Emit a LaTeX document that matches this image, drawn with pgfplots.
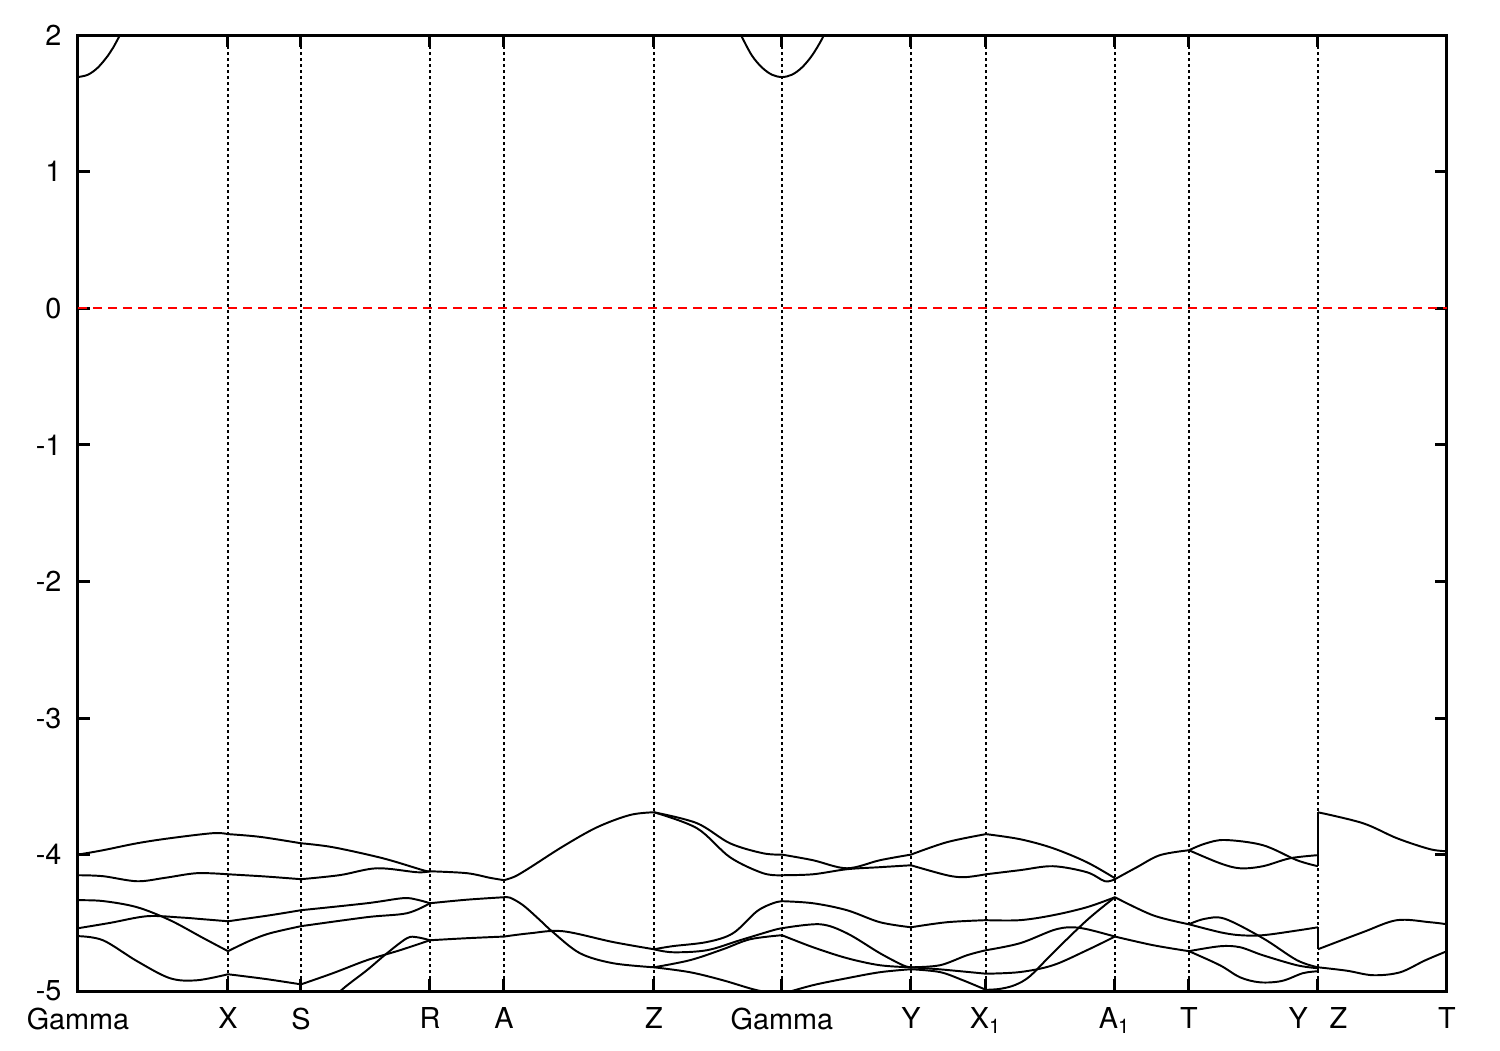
\documentclass[border=0pt]{standalone}
\usepackage{pgfplots}
\pgfplotsset{compat=1.18}
\usepackage{fontspec}
\setmainfont{TeX Gyre Heros}
\usetikzlibrary{calc}
\begin{document}
\begin{tikzpicture}
\begin{axis}[
 scale only axis, width=456.3pt, height=318.7pt,
 xmin=78, xmax=1447, ymin=-5, ymax=2,
 xtick={78,228,301,430,504,654,782,911,986,1115,1189,1318,1447},
 xticklabels={Gamma,X,S,R,A,Z,Gamma,Y,X\textsubscript{1},A\textsubscript{1},T,Y\hspace{0.75em}Z,T},
 ytick={-5,-4,-3,-2,-1,0,1,2},
 yticklabels={-5,-4,-3,-2,-1,0,1,2},
 tick align=inside, major tick length=4pt,
 xmajorgrids, grid style={black, line width=0.4pt, dash pattern=on 1pt off 1pt},
 axis line style={line width=1pt},
 tick style={black, line width=1pt},
 ticklabel style={font=\fontsize{9.6}{11}\selectfont},
 yticklabel style={xshift=-2pt},
 xticklabel style={yshift=-2pt},
 band/.style={black, line width=0.65pt, smooth, tension=0.55, no markers},
 jump/.style={black, line width=0.65pt, no markers},
]
\addplot[red, line width=0.6pt, dash pattern=on 3pt off 2pt] coordinates {(78,0)(1447,0)};
% conduction band
\addplot[band] coordinates {(78,1.693)(88,1.710)(98,1.763)(108,1.850)(113,1.906)(120,2.0)(126,2.08)};
\addplot[band] coordinates {(730,2.163)(735,2.086)(742,1.985)(752,1.85)(762,1.763)(772,1.71)(782,1.693)(792,1.71)(802,1.763)(812,1.85)(822,1.971)(829,2.086)(834,2.163)};
% Gamma - X
\addplot[band] coordinates {(78,-4.0)(103,-3.968)(137,-3.917)(170,-3.88)(213,-3.843)(228,-3.85)};
\addplot[band] coordinates {(78,-4.151)(103,-4.158)(137,-4.195)(165,-4.17)(197,-4.136)(228,-4.144)};
\addplot[band] coordinates {(78,-4.334)(103,-4.34)(137,-4.385)(170,-4.48)(203,-4.61)(228,-4.707)};
\addplot[band] coordinates {(78,-4.539)(110,-4.50)(147,-4.451)(180,-4.46)(203,-4.473)(228,-4.488)};
\addplot[band] coordinates {(78,-4.597)(103,-4.627)(137,-4.78)(170,-4.905)(197,-4.92)(228,-4.876)};
% X - S
\addplot[band] coordinates {(228,-3.85)(260,-3.87)(301,-3.917)};
\addplot[band] coordinates {(228,-4.144)(265,-4.16)(301,-4.18)};
\addplot[band] coordinates {(228,-4.707)(250,-4.63)(270,-4.576)(301,-4.524)};
\addplot[band] coordinates {(228,-4.488)(270,-4.444)(301,-4.407)};
\addplot[band] coordinates {(228,-4.876)(265,-4.91)(301,-4.95)};
% S - R
\addplot[band] coordinates {(301,-3.917)(333,-3.946)(383,-4.027)(423,-4.114)(430,-4.122)};
\addplot[band] coordinates {(301,-4.18)(340,-4.15)(377,-4.10)(417,-4.129)(430,-4.122)};
\addplot[band] coordinates {(301,-4.407)(367,-4.356)(403,-4.319)(417,-4.33)(430,-4.356)};
\addplot[band] coordinates {(301,-4.524)(367,-4.458)(407,-4.429)(430,-4.356)};
\addplot[band] coordinates {(301,-4.95)(333,-4.868)(367,-4.773)(400,-4.70)(430,-4.627)};
\addplot[band] coordinates {(325,-5.1)(345,-4.97)(367,-4.846)(387,-4.722)(407,-4.612)(417,-4.605)(430,-4.627)};
% R - A
\addplot[band] coordinates {(430,-4.122)(467,-4.136)(490,-4.17)(504,-4.187)};
\addplot[band] coordinates {(430,-4.356)(467,-4.33)(504,-4.312)};
\addplot[band] coordinates {(430,-4.627)(467,-4.612)(504,-4.60)};
% A - Z
\addplot[band] coordinates {(504,-4.187)(515,-4.16)(530,-4.095)(563,-3.94)(597,-3.80)(630,-3.71)(654,-3.69)};
\addplot[band] coordinates {(504,-4.312)(510,-4.315)(523,-4.37)(540,-4.48)(553,-4.568)(580,-4.722)(613,-4.795)(654,-4.825)};
\addplot[band] coordinates {(504,-4.60)(530,-4.576)(563,-4.561)(613,-4.64)(654,-4.693)};
% Z - Gamma
\addplot[band] coordinates {(654,-3.69)(697,-3.77)(730,-3.917)(763,-3.99)(782,-4.0)};
\addplot[band] coordinates {(654,-3.69)(697,-3.807)(730,-4.019)(763,-4.136)(782,-4.151)};
\addplot[band] coordinates {(654,-4.693)(673,-4.67)(707,-4.64)(733,-4.576)(757,-4.415)(773,-4.356)(782,-4.341)};
\addplot[band] coordinates {(654,-4.693)(673,-4.715)(707,-4.70)(740,-4.627)(773,-4.554)(782,-4.539)};
\addplot[band] coordinates {(654,-4.825)(690,-4.773)(723,-4.693)(750,-4.62)(782,-4.59)};
\addplot[band] coordinates {(654,-4.825)(690,-4.861)(723,-4.92)(757,-4.993)(782,-5.02)};
% Gamma - Y
\addplot[band] coordinates {(782,-4.0)(813,-4.041)(847,-4.1)(880,-4.041)(911,-4.0)};
\addplot[band] coordinates {(782,-4.151)(813,-4.144)(847,-4.107)(880,-4.092)(911,-4.078)};
\addplot[band] coordinates {(782,-4.341)(813,-4.356)(847,-4.407)(880,-4.495)(911,-4.532)};
\addplot[band] coordinates {(782,-4.539)(820,-4.51)(847,-4.576)(880,-4.722)(903,-4.81)(911,-4.825)};
\addplot[band] coordinates {(782,-4.59)(813,-4.678)(847,-4.758)(880,-4.81)(911,-4.825)};
\addplot[band] coordinates {(782,-5.02)(813,-4.956)(847,-4.905)(880,-4.861)(911,-4.839)};
% Y - X1
\addplot[band] coordinates {(911,-4.0)(947,-3.909)(986,-3.85)};
\addplot[band] coordinates {(911,-4.078)(947,-4.151)(965,-4.165)(986,-4.144)};
\addplot[band] coordinates {(911,-4.532)(947,-4.495)(986,-4.48)};
\addplot[band] coordinates {(911,-4.825)(940,-4.81)(967,-4.737)(986,-4.70)};
\addplot[band] coordinates {(911,-4.825)(940,-4.84)(986,-4.872)};
\addplot[band] coordinates {(911,-4.839)(940,-4.86)(963,-4.92)(986,-4.99)};
% X1 - A1
\addplot[band] coordinates {(986,-3.85)(1020,-3.887)(1053,-3.953)(1087,-4.056)(1115,-4.173)};
\addplot[band] coordinates {(986,-4.144)(1020,-4.114)(1053,-4.085)(1087,-4.129)(1105,-4.195)(1115,-4.18)};
\addplot[band] coordinates {(986,-4.48)(1020,-4.48)(1053,-4.444)(1087,-4.385)(1115,-4.312)};
\addplot[band] coordinates {(986,-4.99)(1000,-4.983)(1015,-4.955)(1030,-4.89)(1053,-4.72)(1087,-4.48)(1115,-4.312)};
\addplot[band] coordinates {(986,-4.70)(1020,-4.649)(1053,-4.554)(1070,-4.532)(1087,-4.546)(1115,-4.60)};
\addplot[band] coordinates {(986,-4.872)(1020,-4.86)(1053,-4.81)(1087,-4.70)(1115,-4.60)};
% A1 - T
\addplot[band] coordinates {(1115,-4.18)(1137,-4.092)(1160,-4.004)(1189,-3.968)};
\addplot[band] coordinates {(1115,-4.312)(1153,-4.444)(1189,-4.51)};
\addplot[band] coordinates {(1115,-4.60)(1153,-4.663)(1189,-4.707)};
% T - Y
\addplot[band] coordinates {(1189,-3.968)(1205,-3.92)(1225,-3.893)(1263,-3.931)(1297,-4.041)(1318,-4.085)};
\addplot[band] coordinates {(1189,-3.968)(1220,-4.063)(1240,-4.1)(1263,-4.085)(1290,-4.027)(1318,-4.004)};
\addplot[band] coordinates {(1189,-4.51)(1205,-4.47)(1225,-4.47)(1263,-4.612)(1297,-4.773)(1318,-4.825)};
\addplot[band] coordinates {(1189,-4.51)(1220,-4.568)(1240,-4.59)(1263,-4.59)(1297,-4.556)(1318,-4.532)};
\addplot[band] coordinates {(1189,-4.707)(1220,-4.671)(1240,-4.678)(1263,-4.737)(1297,-4.81)(1318,-4.832)};
\addplot[band] coordinates {(1189,-4.707)(1220,-4.81)(1240,-4.898)(1260,-4.935)(1282,-4.925)(1303,-4.868)(1318,-4.854)};
% jumps at Y|Z
\addplot[jump] coordinates {(1318,-4.085)(1318,-3.69)};
\addplot[jump] coordinates {(1318,-4.532)(1318,-4.693)};
\addplot[jump] coordinates {(1318,-4.854)(1318,-4.825)};
% Z - T
\addplot[band] coordinates {(1318,-3.69)(1363,-3.77)(1397,-3.88)(1430,-3.96)(1447,-3.975)};
\addplot[band] coordinates {(1318,-4.693)(1363,-4.568)(1397,-4.48)(1430,-4.495)(1447,-4.51)};
\addplot[band] coordinates {(1318,-4.825)(1347,-4.85)(1373,-4.883)(1400,-4.862)(1425,-4.775)(1447,-4.707)};
\end{axis}
\pgfresetboundingbox
\path[use as bounding box] ($(current axis.south west)+(-26pt,-19.7pt)$) rectangle ($(current axis.north east)+(17.7pt,11.7pt)$);
\end{tikzpicture}
\end{document}
